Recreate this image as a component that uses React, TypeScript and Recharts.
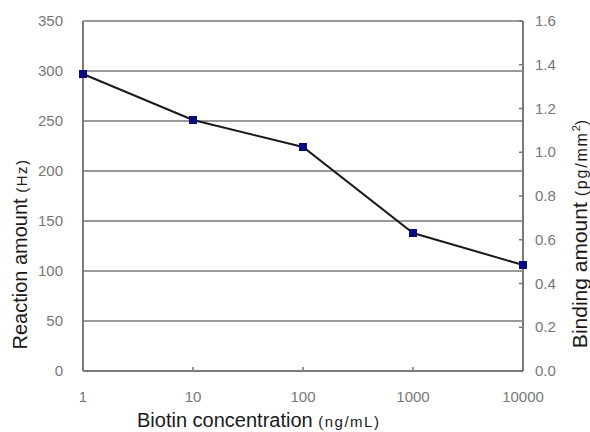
import { LineChart, Line, XAxis, YAxis, CartesianGrid } from 'recharts';

const concentrations = [1, 10, 100, 1000, 10000];
const reactionHz = [297, 251, 224, 138, 106];
const leftTicks = [0, 50, 100, 150, 200, 250, 300, 350];
const rightTicks = [0, 0.2, 0.4, 0.6, 0.8, 1.0, 1.2, 1.4, 1.6];

const chartData = concentrations.map((c, i) => ({ conc: c, hz: reactionHz[i] }));

const FONT = '"Liberation Sans", Arial, sans-serif';
const TICK_COLOR = '#777';
const AXIS_COLOR = '#7a7a7a';
const GRID_COLOR = '#9a9a9a';
const TITLE_COLOR = '#1a1a1a';

function XTick({ x, y, payload }: any) {
    return (
        <g>
            <line x1={x} x2={x} y1={y} y2={y - 4} stroke={AXIS_COLOR} strokeWidth={1.5} />
            <text x={x} y={y + 31} textAnchor="middle" fill={TICK_COLOR} fontSize={15} fontFamily={FONT}>
                {payload.value}
            </text>
        </g>
    );
}

function LeftTick({ x, y, payload }: any) {
    return (
        <text x={x - 20} y={y + 5} textAnchor="end" fill={TICK_COLOR} fontSize={15} fontFamily={FONT}>
            {payload.value}
        </text>
    );
}

function RightTick({ x, y, payload }: any) {
    return (
        <g>
            <line x1={x} x2={x - 4} y1={y} y2={y} stroke={AXIS_COLOR} strokeWidth={1.5} />
            <text x={x + 12} y={y + 5} textAnchor="start" fill={TICK_COLOR} fontSize={15} fontFamily={FONT}>
                {Number(payload.value).toFixed(1)}
            </text>
        </g>
    );
}

function XTitle() {
    return (
        <text x={137} y={427} fill={TITLE_COLOR} fontFamily={FONT}>
            <tspan fontSize={20}>Biotin concentration </tspan>
            <tspan fontSize={15} letterSpacing={1.5}>(ng/mL)</tspan>
        </text>
    );
}

function LeftTitle() {
    return (
        <text transform="translate(27, 254) rotate(-90)" textAnchor="middle" fill={TITLE_COLOR} fontFamily={FONT}>
            <tspan fontSize={20}>Reaction amount </tspan>
            <tspan fontSize={15} letterSpacing={1.5}>(Hz)</tspan>
        </text>
    );
}

function RightTitle() {
    return (
        <text transform="translate(587, 234) rotate(-90)" textAnchor="middle" fill={TITLE_COLOR} fontFamily={FONT}>
            <tspan fontSize={21}>Binding amount </tspan>
            <tspan fontSize={16} letterSpacing={1.8}>(pg/mm</tspan>
            <tspan fontSize={11} dy={-7}>2</tspan>
            <tspan fontSize={16} dy={7}>)</tspan>
        </text>
    );
}

export default function App() {
    return (
        <div style={{ position: 'absolute', left: 0, top: 0, background: '#fff' }}>
            <LineChart width={590} height={432} data={chartData} margin={{ top: 21, right: 0, bottom: 0, left: 0 }}>
                <CartesianGrid yAxisId="left" vertical={false} stroke={GRID_COLOR} strokeWidth={2} />
                <XAxis
                    dataKey="conc"
                    type="number"
                    scale="log"
                    domain={[1, 10000]}
                    ticks={concentrations}
                    height={61}
                    tickSize={0}
                    tickMargin={0}
                    tickLine={false}
                    stroke={AXIS_COLOR}
                    strokeWidth={2}
                    tick={<XTick />}
                    interval={0}
                    label={{ content: () => <XTitle /> }}
                />
                <YAxis
                    yAxisId="left"
                    domain={[0, 350]}
                    ticks={leftTicks}
                    width={83}
                    tickSize={0}
                    tickMargin={0}
                    tickLine={false}
                    stroke={AXIS_COLOR}
                    strokeWidth={2}
                    tick={<LeftTick />}
                    interval={0}
                    label={{ content: () => <LeftTitle /> }}
                />
                <YAxis
                    yAxisId="right"
                    orientation="right"
                    type="number"
                    domain={[0, 1.6]}
                    allowDataOverflow
                    ticks={rightTicks}
                    width={67}
                    tickSize={0}
                    tickMargin={0}
                    tickLine={false}
                    stroke={AXIS_COLOR}
                    strokeWidth={2}
                    tick={<RightTick />}
                    interval={0}
                    label={{ content: () => <RightTitle /> }}
                />
                {/* placeholder series so the right axis gets drawn */}
                <Line
                    yAxisId="right"
                    dataKey="binding"
                    stroke="none"
                    dot={false}
                    activeDot={false}
                    isAnimationActive={false}
                />
                <Line
                    yAxisId="left"
                    dataKey="hz"
                    stroke="#1a1a1a"
                    strokeWidth={2}
                    isAnimationActive={false}
                    dot={(p: any) => (
                        <rect key={p.index} x={p.cx - 4} y={p.cy - 4} width={8} height={8} fill="#0a0a80" />
                    )}
                />
            </LineChart>
        </div>
    );
}
